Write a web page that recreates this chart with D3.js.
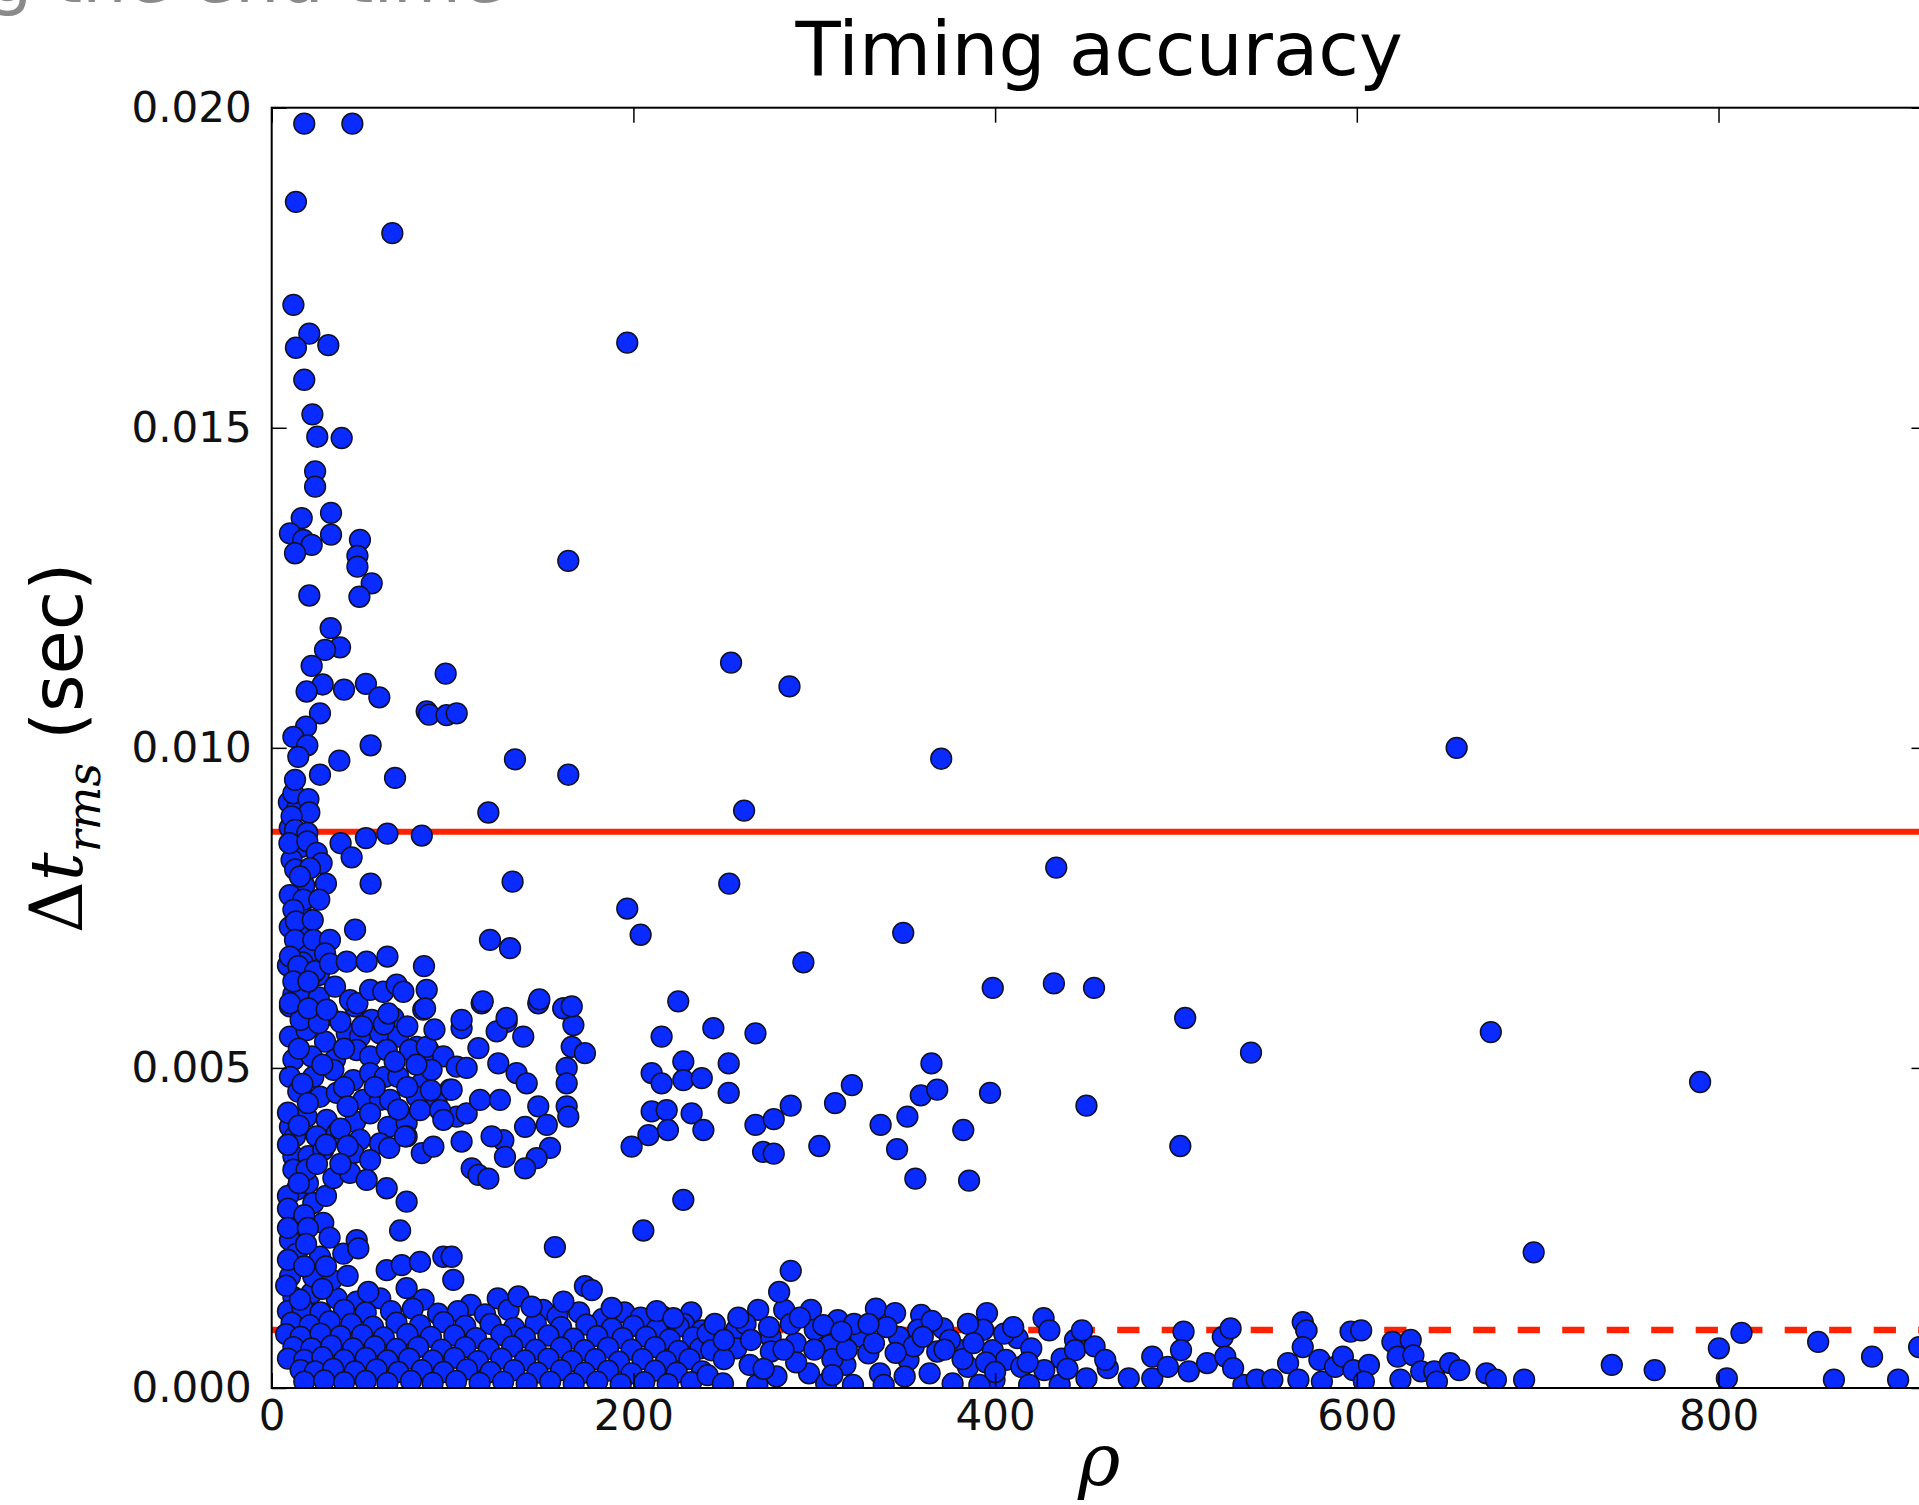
<!DOCTYPE html>
<html>
<head>
<meta charset="utf-8">
<script src="https://cdn.jsdelivr.net/npm/d3@7"></script>
<style>
  html, body { margin: 0; padding: 0; background: #ffffff; }
  svg { display: block; }
</style>
</head>
<body>
<svg id="chart" width="1919" height="1505"></svg>
<script>
// ---------------- data (rho, delta t_rms in seconds) ----------------
const titleText = "Timing accuracy";
const topCaption = "g the end time";
const xTicks = [0, 200, 400, 600, 800];
const yTicks = [0.000, 0.005, 0.010, 0.015, 0.020];
const xDomain = [0, 915];
const yDomain = [0, 0.02];
const solidLevel = 0.00869;   // solid red line
const dashedLevel = 0.000906; // dashed red line

const highOutliers = [
  [18.0,0.01975],[44.6,0.01975],[13.4,0.01853],[66.7,0.01804],[12.0,0.01692],[20.8,0.01647],
  [13.4,0.01625],[31.3,0.01629],[196.6,0.01633],[18.0,0.01575],[22.5,0.01521],[25.2,0.01486],
  [38.7,0.01484],[24.0,0.01432],[24.0,0.01408],[16.6,0.01359],[32.8,0.01367],[10.1,0.01335],
  [17.5,0.01325],[22.1,0.01317],[32.8,0.01333],[48.8,0.01325],[12.9,0.01304],[47.4,0.01300],
  [164.0,0.01292],[47.4,0.01283],[55.3,0.01257],[48.5,0.01236],[20.8,0.01238],[32.6,0.01187],
  [37.8,0.01157],[29.5,0.01153],[22.1,0.01128],[28.2,0.01099],[19.3,0.01088],[40.0,0.01091],
  [52.1,0.01100],[59.5,0.01079],[96.2,0.01116],[85.7,0.01057],[87.0,0.01052],[96.7,0.01051],
  [102.3,0.01054],[26.7,0.01054],[19.0,0.01033],[12.0,0.01017],[19.7,0.01004],[14.7,0.00986],
  [54.7,0.01004],[37.4,0.00980],[26.7,0.00958],[12.9,0.00950],[68.2,0.00953],[134.5,0.00982],
  [164.0,0.00958],[254.0,0.01133],[286.3,0.01096],[655.2,0.01000],[370.2,0.00983]
];

const upperMid = [
  [12.0,0.00929],[20.3,0.00920],[20.8,0.00899],[11.0,0.00893],[119.8,0.00899],[261.2,0.00902],
  [12.9,0.00872],[19.7,0.00867],[9.8,0.00851],[19.7,0.00854],[38.1,0.00851],[44.2,0.00829],
  [52.1,0.00859],[64.0,0.00866],[83.0,0.00863],[24.9,0.00836],[27.6,0.00820],[21.2,0.00812],
  [15.6,0.00799],[30.0,0.00788],[54.7,0.00788],[133.2,0.00791],[253.0,0.00788],[433.8,0.00813],
  [17.5,0.00763],[26.3,0.00763],[12.0,0.00747],[13.4,0.00729],[22.7,0.00731],[196.6,0.00749],
  [204.0,0.00708],[46.1,0.00716],[120.7,0.00700],[131.8,0.00687],[349.2,0.00711],[12.9,0.00700],
  [23.0,0.00700],[32.2,0.00700],[10.1,0.00674],[14.7,0.00659],[24.0,0.00651],[29.5,0.00679],
  [32.2,0.00663],[41.5,0.00666],[52.5,0.00666],[64.0,0.00674],[84.2,0.00659],[294.0,0.00665],
  [12.0,0.00635],[20.3,0.00635],[35.0,0.00627],[43.3,0.00606],[47.4,0.00601],[54.4,0.00622],
  [61.7,0.00619],[69.1,0.00630],[72.8,0.00619],[85.7,0.00622],[84.8,0.00593],[10.1,0.00601],
  [20.3,0.00593],[30.4,0.00591],[64.5,0.00585],[116.7,0.00604],[148.0,0.00607],[161.3,0.00593],
  [165.9,0.00596],[224.8,0.00604],[105.0,0.00575],[129.9,0.00578],[398.7,0.00625],[432.5,0.00632],
  [454.7,0.00625],[505.1,0.00578],[541.5,0.00524],[674.1,0.00556],[789.8,0.00478],[502.4,0.00378],
  [697.8,0.00212]
];

const leftColumnUpper = [
  [9.5,0.00915],[14,0.00905],[10,0.00875],[16,0.00845],[11,0.00825],[13,0.00810],[18,0.00785],
  [10,0.00770],[16,0.00750],[19,0.00715],[10,0.00720],[15,0.00690],[20,0.00680],[9,0.00660],
  [17,0.00665],[26,0.00645],[12,0.00615],[17,0.00620],[26,0.00610]
];

const denseLeft = [
  [10.1,0.00596],[20.3,0.00591],[31.3,0.00583],[46.1,0.00596],[55.3,0.00575],[67.3,0.00578],
  [10.1,0.00549],[19.3,0.00559],[29.5,0.00541],[41.5,0.00554],[48.8,0.00549],[59.9,0.00554],
  [70.0,0.00549],[80.2,0.00533],[86.6,0.00528],
  [12.0,0.00513],[22.1,0.00518],[35.0,0.00513],[47.0,0.00528],[54.4,0.00518],[63.6,0.00528],
  [76.5,0.00528],[85.7,0.00533],[94.9,0.00518],[102.3,0.00502],
  [10.1,0.00486],[23.0,0.00486],[34.1,0.00497],[45.1,0.00481],[54.4,0.00492],[62.6,0.00486],
  [70.0,0.00486],[83.0,0.00476],[88.4,0.00497],[98.6,0.00466],
  [14.7,0.00463],[26.7,0.00455],[36.0,0.00461],[50.7,0.00450],[59.9,0.00450],[65.4,0.00450],
  [80.2,0.00455],[91.2,0.00445],[102.3,0.00424],[107.8,0.00429],
  [10.1,0.00408],[19.3,0.00424],[30.4,0.00419],[46.1,0.00416],[54.4,0.00429],[64.5,0.00408],
  [74.6,0.00414],[82.0,0.00434],[93.1,0.00434],[94.9,0.00419],
  [12.9,0.00393],[24.9,0.00393],[36.0,0.00398],[48.8,0.00388],[59.9,0.00382],[74.6,0.00393],
  [12.0,0.00362],[20.3,0.00362],[28.5,0.00372],[45.1,0.00367],[54.4,0.00356],[12.0,0.00341],
  [19.3,0.00341],[34.1,0.00328],[43.3,0.00336],[52.5,0.00325],
  [16,0.00575],[26,0.00570],[38,0.00572],[50,0.00565],[62,0.00568],[75,0.00565],[90,0.00560],
  [15,0.00530],[40,0.00530],[68,0.00510],[80,0.00505],[28,0.00505],[17,0.00475],[40,0.00470],
  [75,0.00470],[57,0.00470],[88,0.00465],[20,0.00445],[42,0.00440],[70,0.00435],[9,0.00430],
  [38,0.00405],[15,0.00410],[30,0.00380],[42,0.00378],[65,0.00375],[9,0.00380],[25,0.00350],
  [38,0.00350],[15,0.00320]
];

const lowerLeft = [
  [13.8,0.00310],[23.0,0.00289],[12.0,0.00268],[28.5,0.00258],[15.6,0.00242],[10.1,0.00231],
  [13.8,0.00210],[26.7,0.00205],[39.6,0.00210],[10.1,0.00174],[23.0,0.00174],[33.2,0.00169],
  [15.6,0.00138],[9,0.00300],[20,0.00320],[30,0.00300],[9,0.00280],[18,0.00270],[9,0.00250],
  [20,0.00250],[32,0.00235],[19,0.00225],[9,0.00200],[18,0.00190],[30,0.00190],[8,0.00160],
  [42,0.00175],[28,0.00155]
];

const midCluster = [
  [83.8,0.00591],[116.1,0.00601],[147.4,0.00601],[161.3,0.00593],[105.0,0.00562],[129.9,0.00572],
  [124.4,0.00557],[139.1,0.00549],[166.8,0.00567],[114.3,0.00531],[165.9,0.00533],[173.2,0.00523],
  [215.6,0.00549],[107.8,0.00500],[125.3,0.00507],[135.4,0.00492],[141.0,0.00476],[163.1,0.00500],
  [163.1,0.00476],[210.1,0.00492],[215.6,0.00476],[227.6,0.00510],[227.6,0.00481],[237.8,0.00484],
  [99.5,0.00466],[115.2,0.00450],[126.2,0.00450],[147.4,0.00440],[163.1,0.00440],[164.0,0.00424],
  [210.1,0.00432],[218.4,0.00434],[232.2,0.00429],[208.3,0.00395],[219.1,0.00403],[238.7,0.00403],
  [199.0,0.00377],[140.1,0.00408],[152.1,0.00411],[153.9,0.00375],[146.5,0.00359],[140.1,0.00343],
  [128.1,0.00387],[121.6,0.00393],[129.0,0.00361],[105.0,0.00385],[110.6,0.00343],[114.3,0.00333],
  [119.8,0.00327],[83.0,0.00367],[89.4,0.00377],[73.7,0.00393],[63.6,0.00312],[74.6,0.00291],
  [71.0,0.00246],[156.6,0.00220],[227.6,0.00294],[205.5,0.00246],[47.0,0.00231],[47.9,0.00218],
  [63.6,0.00184],[71.9,0.00192],[82.0,0.00197],[94.9,0.00205],[99.5,0.00205],[100.4,0.00169],
  [74.6,0.00156],[53.4,0.00150],[136.4,0.00143],[143.7,0.00127],[173.2,0.00159],[177.0,0.00153],
  [161.3,0.00135],[188.0,0.00125],[212.9,0.00120],[222.1,0.00109],
  [244.2,0.00562],[267.5,0.00554],[252.7,0.00507],[252.7,0.00461],[267.5,0.00411],[277.6,0.00420],
  [287.0,0.00441],[271.7,0.00369],[277.6,0.00366],[302.8,0.00378],[311.5,0.00445],[320.8,0.00473],
  [336.7,0.00411],[345.8,0.00373],[351.5,0.00424],[358.9,0.00457],[368.0,0.00466],[364.8,0.00507],
  [355.9,0.00327],[385.6,0.00324],[382.4,0.00403],[397.2,0.00461],[450.5,0.00441],[287.0,0.00183],
  [280.6,0.00150]
];

const lowBandLeft = [
  [12,0.00142],[22,0.00148],[36,0.00140],[47,0.00135],[60,0.00140],[84,0.00138],[110,0.00130],
  [125,0.00140],[150,0.00122],[195,0.00118],[232,0.00118],
  [9,0.00120],[17,0.00125],[27,0.00118],[40,0.00122],[52,0.00118],[66,0.00120],[78,0.00124],
  [92,0.00116],[103,0.00120],[118,0.00115],[131,0.00122],[158,0.00112],[170,0.00118],[183,0.00108],
  [204,0.00110],[216,0.00112],[228,0.00100],
  [11,0.00102],[21,0.00098],[32,0.00104],[44,0.00100],[56,0.00096],[69,0.00102],[82,0.00098],
  [95,0.00103],[107,0.00097],[121,0.00100],[134,0.00094],[146,0.00101],[160,0.00095],[174,0.00099],
  [188,0.00093],[200,0.00097],[213,0.00092],[225,0.00096],[238,0.00090],
  [8,0.00084],[16,0.00080],[27,0.00085],[38,0.00081],[50,0.00083],[62,0.00079],[75,0.00084],
  [88,0.00080],[101,0.00082],[113,0.00078],[127,0.00083],[140,0.00079],[153,0.00082],[167,0.00077],
  [180,0.00081],[194,0.00078],[207,0.00080],[220,0.00076],[233,0.00079],
  [12,0.00064],[22,0.00062],[33,0.00066],[45,0.00062],[57,0.00065],[69,0.00061],[81,0.00064],
  [94,0.00060],[107,0.00064],[120,0.00061],[133,0.00065],[146,0.00060],[160,0.00063],[173,0.00059],
  [186,0.00063],[199,0.00060],[212,0.00064],[225,0.00058],[237,0.00062],
  [9,0.00046],[18,0.00044],[28,0.00048],[40,0.00044],[52,0.00047],[64,0.00043],[76,0.00046],
  [89,0.00043],[101,0.00047],[114,0.00042],[127,0.00046],[140,0.00043],[153,0.00046],[166,0.00042],
  [179,0.00045],[192,0.00041],[205,0.00045],[218,0.00042],[231,0.00045],
  [16,0.00028],[24,0.00026],[34,0.00030],[46,0.00026],[58,0.00029],[70,0.00025],[83,0.00028],
  [95,0.00025],[108,0.00029],[121,0.00025],[134,0.00028],[147,0.00024],[160,0.00028],[173,0.00024],
  [186,0.00027],[199,0.00023],[212,0.00027],[224,0.00024],[238,0.00026],
  [18,0.00010],[29,0.00012],[40,0.00009],[52,0.00011],[64,0.00008],[77,0.00011],[89,0.00008],
  [102,0.00011],[115,0.00008],[128,0.00010],[141,0.00007],[154,0.00010],[167,0.00007],[180,0.00010],
  [193,0.00006],[206,0.00009],[219,0.00006],[232,0.00009]
];

const lowBandMid = [
  [269.0,0.00122],[298.2,0.00122],[283.4,0.00122],[334.1,0.00124],[344.7,0.00117],[359.1,0.00114],
  [395.5,0.00117],[426.8,0.00109],[313.0,0.00106],[371.2,0.00093],[256.9,0.00091],[241.0,0.00085],
  [275.9,0.00080],[300.3,0.00091],[325.7,0.00080],[357.4,0.00091],[393.4,0.00091],[412.4,0.00078],
  [444.2,0.00075],[243.1,0.00059],[256.9,0.00062],[276.0,0.00057],[289.7,0.00070],[308.7,0.00067],
  [329.9,0.00054],[346.8,0.00080],[368.0,0.00057],[380.7,0.00059],[398.7,0.00059],[406.0,0.00044],
  [436.8,0.00046],[444.2,0.00059],[241.0,0.00020],[264.3,0.00036],[279.1,0.00018],[297.1,0.00023],
  [317.2,0.00036],[336.3,0.00023],[352.1,0.00044],[363.8,0.00023],[385.0,0.00033],[399.7,0.00012],
  [414.5,0.00033],[427.2,0.00028],[450.5,0.00015],[249.5,0.00007],[268.5,0.00005],[306.6,0.00007],
  [321.4,0.00005],[338.4,0.00005],[376.5,0.00007],[391.3,0.00005],[418.8,0.00005],[435.7,0.00005],
  [537.3,0.00005],
  [250,0.00045],[262,0.00100],[287,0.00100],[290,0.00040],[310,0.00045],[322,0.00100],[333,0.00070],
  [340,0.00095],[355,0.00065],[375,0.00075],[382,0.00045],[395,0.00040],[405,0.00085],[420,0.00062],
  [265,0.00075],[283,0.00060],[318,0.00060],[365,0.00105],[350,0.00018],[310,0.00020],[272,0.00030],
  [385,0.00100],[430,0.00090],
  [245,0.00100],[258,0.00110],[275,0.00095],[292,0.00110],[305,0.00098],[250,0.00075],[300,0.00060],
  [315,0.00088],[330,0.00100],[345,0.00055],[360,0.00080],[372,0.00060],[388,0.00070],[410,0.00095],
  [400,0.00025],[418,0.00040],[440,0.00030],[455,0.00065],[448,0.00090]
];

const lowBandRight = [
  [462.3,0.00031],[460.9,0.00044],[473.9,0.00015],[486.9,0.00049],[486.9,0.00015],[495.5,0.00033],
  [504.2,0.00088],[502.8,0.00059],[507.1,0.00026],[517.2,0.00039],[525.9,0.00080],[530.2,0.00093],
  [527.3,0.00049],[531.6,0.00031],[544.6,0.00013],[553.3,0.00013],[562.0,0.00039],[570.1,0.00103],
  [572.1,0.00090],[570.1,0.00064],[567.7,0.00013],[579.3,0.00044],[580.7,0.00010],[588.0,0.00033],
  [592.3,0.00049],[596.6,0.00088],[602.4,0.00090],[598.1,0.00028],[606.7,0.00036],[603.9,0.00010],
  [619.7,0.00072],[629.8,0.00075],[622.6,0.00049],[631.3,0.00051],[624.1,0.00013],[635.6,0.00026],
  [642.8,0.00026],[644.3,0.00010],[651.5,0.00039],[656.7,0.00028],[671.7,0.00023],[676.9,0.00013],
  [692.5,0.00013],[741.0,0.00036],[764.7,0.00028],[800.2,0.00062],[812.7,0.00086],[804.6,0.00015],
  [855.1,0.00072],[863.8,0.00013],[884.9,0.00049],[899.3,0.00013],[910.9,0.00064]
];

// ---------------- layout ----------------
const svg = d3.select("#chart");
const plot = { left: 271.7, top: 107.7, right: 1926.5, bottom: 1388 };

const x = d3.scaleLinear().domain(xDomain).range([plot.left, plot.right]);
const y = d3.scaleLinear().domain(yDomain).range([plot.bottom, plot.top]);

const sans = "'DejaVu Sans', 'Liberation Sans', sans-serif";
const serif = "'DejaVu Serif', 'Liberation Serif', serif";

svg.append("rect").attr("width", 1919).attr("height", 1505).attr("fill", "#ffffff");

// caption partly outside the picture at its very top, as in the source image
svg.append("text")
  .attr("x", -12).attr("y", 2)
  .attr("font-family", sans).attr("font-size", 70)
  .attr("fill", "#8a8a8a")
  .text(topCaption);

const defs = svg.append("defs");
defs.append("clipPath").attr("id", "plotClip")
  .append("rect")
  .attr("x", plot.left).attr("y", plot.top)
  .attr("width", plot.right - plot.left).attr("height", plot.bottom - plot.top);

const clipped = svg.append("g").attr("clip-path", "url(#plotClip)");

// reference lines (behind points)
clipped.append("line")
  .attr("x1", x(xDomain[0])).attr("x2", x(xDomain[1]))
  .attr("y1", y(solidLevel)).attr("y2", y(solidLevel))
  .attr("stroke", "#ff2200").attr("stroke-width", 6);
clipped.append("line")
  .attr("x1", x(xDomain[0])).attr("x2", x(xDomain[1]))
  .attr("y1", y(dashedLevel)).attr("y2", y(dashedLevel))
  .attr("stroke", "#ff2200").attr("stroke-width", 6.5)
  .attr("stroke-dasharray", "22.25,22.25");

// points
const allPoints = [].concat(lowBandLeft, lowBandMid, lowBandRight, lowerLeft, denseLeft,
  midCluster, leftColumnUpper, upperMid, highOutliers);

clipped.append("g").selectAll("circle")
  .data(allPoints)
  .join("circle")
  .attr("cx", d => x(d[0]))
  .attr("cy", d => y(d[1]))
  .attr("r", 10.4)
  .attr("fill", "#0a2bff")
  .attr("stroke", "#101028")
  .attr("stroke-width", 1.5);

// frame
svg.append("rect")
  .attr("x", plot.left).attr("y", plot.top)
  .attr("width", plot.right - plot.left).attr("height", plot.bottom - plot.top)
  .attr("fill", "none").attr("stroke", "#000").attr("stroke-width", 2);

// axes
const tickLen = 15;
function styleAxis(g) {
  g.select(".domain").remove();
  g.selectAll(".tick line").attr("stroke", "#000").attr("stroke-width", 1.5);
  g.selectAll(".tick text").attr("font-family", sans).attr("font-size", 42).attr("fill", "#111");
}

svg.append("g")
  .attr("transform", `translate(0,${plot.bottom})`)
  .call(d3.axisBottom(x).tickValues(xTicks).tickFormat(d3.format("d"))
    .tickSizeInner(-tickLen).tickSizeOuter(0).tickPadding(12))
  .call(styleAxis);

svg.append("g")
  .attr("transform", `translate(0,${plot.top})`)
  .call(d3.axisTop(x).tickValues(xTicks).tickFormat("")
    .tickSizeInner(-tickLen).tickSizeOuter(0))
  .call(styleAxis);

svg.append("g")
  .attr("transform", `translate(${plot.left},0)`)
  .call(d3.axisLeft(y).tickValues(yTicks).tickFormat(d3.format(".3f"))
    .tickSizeInner(-tickLen).tickSizeOuter(0).tickPadding(20))
  .call(styleAxis);

svg.append("g")
  .attr("transform", `translate(${plot.right},0)`)
  .call(d3.axisRight(y).tickValues(yTicks).tickFormat("")
    .tickSizeInner(-tickLen).tickSizeOuter(0))
  .call(styleAxis);

// title
svg.append("text")
  .attr("x", (plot.left + plot.right) / 2).attr("y", 75)
  .attr("text-anchor", "middle")
  .attr("font-family", sans).attr("font-size", 74).attr("fill", "#000")
  .text(titleText);

// x label
svg.append("text")
  .attr("x", (plot.left + plot.right) / 2).attr("y", 1485)
  .attr("text-anchor", "middle")
  .attr("font-family", serif).attr("font-style", "italic")
  .attr("font-size", 72).attr("fill", "#000")
  .text("ρ");

// y label
const yl = svg.append("text")
  .attr("transform", `translate(82,${(plot.top + plot.bottom) / 2}) rotate(-90)`)
  .attr("text-anchor", "middle")
  .attr("fill", "#000");
yl.append("tspan").attr("font-family", serif).attr("font-size", 72).text("Δ");
yl.append("tspan").attr("font-family", serif).attr("font-style", "italic").attr("font-size", 72).text("t");
yl.append("tspan").attr("font-family", serif).attr("font-style", "italic").attr("font-size", 46)
  .attr("dy", 18).text("rms");
yl.append("tspan").attr("font-family", sans).attr("font-size", 72).attr("dy", -18).text("\u00a0(sec)");
</script>
</body>
</html>
